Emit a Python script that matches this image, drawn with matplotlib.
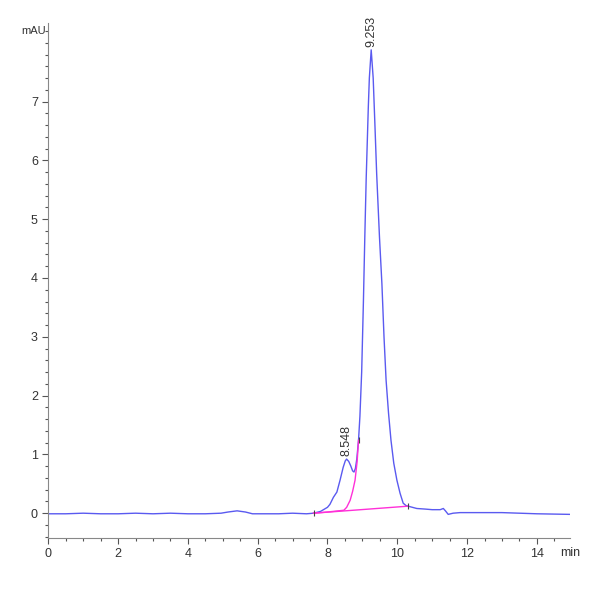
import matplotlib
matplotlib.use("Agg")
import matplotlib.pyplot as plt
from matplotlib.ticker import MultipleLocator

plt.rcParams['font.family'] = ['Liberation Sans Narrow', 'Liberation Sans', 'DejaVu Sans']

# chromatogram trace (min, mAU)
time = [0.0, 0.5, 1.0, 1.5, 2.0, 2.5, 3.0, 3.5, 4.0, 4.5, 4.95, 5.15, 5.41, 5.65,
        5.85, 6.2, 6.6, 7.0, 7.4, 7.6, 7.8, 8.0, 8.07, 8.17, 8.27, 8.36, 8.45,
        8.51, 8.548, 8.61, 8.67, 8.72, 8.76, 8.80, 8.84, 8.89, 8.93, 8.98, 9.03,
        9.07, 9.11, 9.17, 9.20, 9.253, 9.31, 9.36, 9.41, 9.49, 9.56, 9.62, 9.68,
        9.75, 9.82, 9.90, 9.99, 10.08, 10.17, 10.25, 10.37, 10.56, 10.8, 11.0,
        11.23, 11.32, 11.38, 11.46, 11.6, 11.8, 12.2, 13.0, 13.5, 14.0, 14.95]
signal = [-0.01, -0.01, 0.0, -0.01, -0.01, 0.0, -0.01, 0.0, -0.01, -0.01, 0.0,
          0.02, 0.04, 0.02, -0.01, -0.01, -0.01, 0.0, -0.01, 0.0, 0.03, 0.10,
          0.15, 0.27, 0.36, 0.56, 0.78, 0.89, 0.92, 0.88, 0.80, 0.72, 0.70,
          0.76, 0.92, 1.24, 1.65, 2.40, 3.60, 4.70, 5.70, 6.90, 7.40, 7.88,
          7.40, 6.60, 5.77, 4.70, 3.90, 3.00, 2.26, 1.70, 1.24, 0.85, 0.56,
          0.34, 0.17, 0.13, 0.11, 0.08, 0.07, 0.06, 0.06, 0.08, 0.04, -0.02,
          0.0, 0.01, 0.01, 0.01, 0.0, -0.01, -0.02]

# skimmed peak curve and integration baseline
skim_time = [7.6, 8.0, 8.47, 8.55, 8.65, 8.72, 8.79, 8.85, 8.89]
skim_signal = [0.0, 0.02, 0.05, 0.10, 0.22, 0.37, 0.56, 0.88, 1.24]
base_time = [7.6, 10.32]
base_signal = [0.0, 0.12]
event_time = [7.6, 8.89, 10.32]
event_signal = [0.0, 1.24, 0.12]

peak_rt = [8.548, 9.253]
peak_height = [0.92, 7.88]

fig = plt.figure(figsize=(6, 6), dpi=100)
ax = fig.add_axes([0.0805, 0.104, 0.8695, 0.858])

ax.plot(time, signal, color='#5a5af0', lw=1.0)
ax.plot(skim_time, skim_signal, color='#ff30d8', lw=1.0)
ax.plot(base_time, base_signal, color='#ff30d8', lw=1.0)
ax.plot(event_time, event_signal, ls='none', marker='|', ms=5, color='#444444', mew=0.8)

for rt, h in zip(peak_rt, peak_height):
    ax.text(rt, h + 0.05, f'{rt:.3f}', rotation=90, ha='center', va='bottom',
            fontsize=9, color='#333333')

ax.set_xlim(0, 14.95)
ax.set_ylim(-0.415, 8.34)
ax.xaxis.set_major_locator(MultipleLocator(2))
ax.xaxis.set_minor_locator(MultipleLocator(0.5))
ax.yaxis.set_major_locator(MultipleLocator(1))
ax.yaxis.set_minor_locator(MultipleLocator(0.2))
ax.set_yticks(range(0, 8))
ax.tick_params(which='both', direction='out', colors='#555555', labelcolor='#333333',
               labelsize=9, width=0.8)
ax.tick_params(which='major', length=4)
ax.tick_params(which='minor', length=2.5)

for side in ['top', 'right']:
    ax.spines[side].set_visible(False)
for side in ['left', 'bottom']:
    ax.spines[side].set_color('#888888')
    ax.spines[side].set_linewidth(0.8)

fig.text(0.036, 0.948, 'mAU', fontsize=8, color='#333333', ha='left', va='center')
fig.text(0.933, 0.078, 'min', fontsize=9, color='#333333', ha='left', va='center')

fig.savefig('out.png')
